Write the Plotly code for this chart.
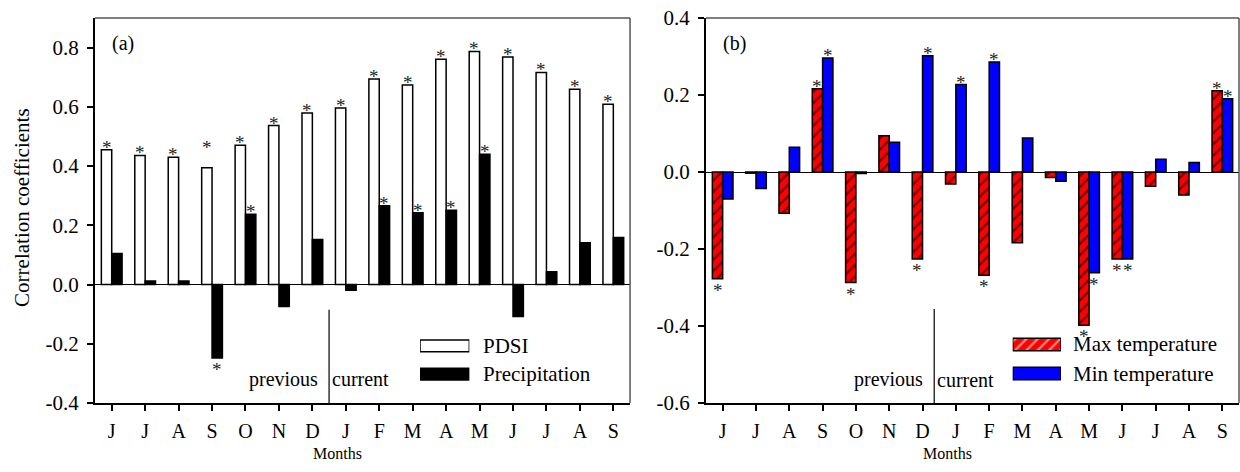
import plotly.graph_objects as go

# ---------------- data ----------------
months = ["J", "J", "A", "S", "O", "N", "D", "J", "F", "M", "A", "M", "J", "J", "A", "S"]

pdsi = [0.455, 0.436, 0.430, 0.394, 0.470, 0.537, 0.579, 0.596,
        0.694, 0.674, 0.761, 0.787, 0.768, 0.716, 0.659, 0.609]
precip = [0.105, 0.012, 0.012, -0.248, 0.237, -0.074, 0.152, -0.019,
          0.266, 0.242, 0.251, 0.440, -0.108, 0.043, 0.141, 0.159]
pdsi_sig = [1] * 16
precip_sig = [0, 0, 0, 1, 1, 0, 0, 0, 1, 1, 1, 1, 0, 0, 0, 0]

tmax = [-0.277, -0.003, -0.107, 0.216, -0.287, 0.094, -0.226, -0.031,
        -0.268, -0.184, -0.014, -0.398, -0.226, -0.037, -0.060, 0.211]
tmin = [-0.070, -0.043, 0.064, 0.296, -0.004, 0.077, 0.302, 0.227,
        0.286, 0.088, -0.024, -0.262, -0.226, 0.033, 0.025, 0.190]
tmax_sig = [1, 0, 0, 1, 1, 0, 1, 0, 1, 0, 0, 1, 1, 0, 0, 1]
tmin_sig = [0, 0, 0, 1, 0, 0, 1, 1, 1, 0, 0, 1, 1, 0, 0, 1]

ytick_a = [-0.4, -0.2, 0.0, 0.2, 0.4, 0.6, 0.8]
ytick_a_text = ["-0.4", "-0.2", "0.0", "0.2", "0.4", "0.6", "0.8"]
ytick_b = [-0.6, -0.4, -0.2, 0.0, 0.2, 0.4]
ytick_b_text = ["-0.6", "-0.4", "-0.2", "0.0", "0.2", "0.4"]

# ---------------- style ----------------
FONT = "Liberation Serif"
BARGAP = 0.38
HALF = (1 - BARGAP) / 4  # offset of each bar centre from the tick
xs = list(range(len(months)))
HATCH = dict(shape="/", fillmode="overlay", fgcolor="black", size=8, solidity=0.3)

fig = go.Figure()

# panel (a)
fig.add_trace(go.Bar(x=xs, y=pdsi, name="PDSI", marker=dict(color="white", line=dict(color="black", width=1.5)),
                     xaxis="x", yaxis="y", showlegend=False))
fig.add_trace(go.Bar(x=xs, y=precip, name="Precipitation", marker=dict(color="black", line=dict(color="black", width=1.5)),
                     xaxis="x", yaxis="y", showlegend=False))

# panel (b)
fig.add_trace(go.Bar(x=xs, y=tmax, name="Max temperature",
                     marker=dict(color="#ff0000", line=dict(color="black", width=1.5), pattern=HATCH),
                     xaxis="x2", yaxis="y2", showlegend=False))
fig.add_trace(go.Bar(x=xs, y=tmin, name="Min temperature",
                     marker=dict(color="#0000ff", line=dict(color="black", width=1.5)),
                     xaxis="x2", yaxis="y2", showlegend=False))

# legend swatches (drawn as bars on small overlay axes)
fig.add_trace(go.Bar(x=[1, 1], y=[0, 1], orientation="h", width=0.42, base=0,
                     marker=dict(color=["black", "white"], line=dict(color="black", width=1.5)),
                     xaxis="x3", yaxis="y3", showlegend=False, cliponaxis=False, hoverinfo="skip"))
fig.add_trace(go.Bar(x=[1, 1], y=[0, 1], orientation="h", width=0.43, base=0,
                     marker=dict(color=["#0000ff", "#ff0000"], line=dict(color="black", width=1.5),
                                 pattern=dict(shape=["", "/"], fillmode="overlay", fgcolor="black",
                                              size=8, solidity=0.3)),
                     xaxis="x4", yaxis="y4", showlegend=False, cliponaxis=False, hoverinfo="skip"))

annotations = []


def stars(values, sig, offset, xref, yref):
    for i, (v, s) in enumerate(zip(values, sig)):
        if not s:
            continue
        annotations.append(dict(x=i + offset, y=v, xref=xref, yref=yref, text="*", showarrow=False,
                                yanchor="middle", valign="top", height=12,
                                yshift=7 if v >= 0 else -7,
                                font=dict(family=FONT, size=19, color="#222")))


stars(pdsi, pdsi_sig, -HALF, "x", "y")
stars(precip, precip_sig, HALF, "x", "y")
stars(tmax, tmax_sig, -HALF, "x2", "y2")
stars(tmin, tmin_sig, HALF, "x2", "y2")
# the September PDSI asterisk sits higher in the original
annotations[3]["yshift"] = 25

# panel labels
annotations.append(dict(x=0.0131, y=0.935, xref="paper", yref="paper", text="(a)", showarrow=False,
                        xanchor="left", yanchor="middle", font=dict(family=FONT, size=20, color="black")))
annotations.append(dict(x=0.547, y=0.935, xref="paper", yref="paper", text="(b)", showarrow=False,
                        xanchor="left", yanchor="middle", font=dict(family=FONT, size=20, color="black")))

# previous / current
for xr, yr, xline, ytxt in [("x", "y", 6.5, -0.32), ("x2", "y2", 6.35, -0.54)]:
    annotations.append(dict(x=xline, y=ytxt, xref=xr, yref=yr, text="previous", showarrow=False,
                            xanchor="right", yanchor="middle", xshift=-9,
                            font=dict(family=FONT, size=20, color="black")))
    annotations.append(dict(x=xline, y=ytxt, xref=xr, yref=yr, text="current", showarrow=False,
                            xanchor="left", yanchor="middle", xshift=1,
                            font=dict(family=FONT, size=20, color="black")))
    annotations.append(dict(x=6.75, y=-0.13, xref=xr, yref="paper", text="Months", showarrow=False,
                            xanchor="center", yanchor="middle",
                            font=dict(family=FONT, size=16, color="black")))

# legend labels
for x, y, t in [(0.3374, 0.148, "PDSI"), (0.3374, 0.0753, "Precipitation"),
                (0.8530, 0.152, "Max temperature"), (0.8530, 0.0766, "Min temperature")]:
    annotations.append(dict(x=x, y=y, xref="paper", yref="paper", text=t, showarrow=False,
                            xanchor="left", yanchor="middle", font=dict(family=FONT, size=21, color="black")))

# y title
annotations.append(dict(x=-0.0634, y=0.508, xref="paper", yref="paper", text="Correlation coefficients",
                        showarrow=False, textangle=-90, xanchor="center", yanchor="middle",
                        font=dict(family=FONT, size=21, color="black")))

shapes = [
    dict(type="line", xref="x", yref="y", x0=6.5, x1=6.5, y0=-0.4, y1=-0.085, line=dict(color="black", width=1.2)),
    dict(type="line", xref="x2", yref="y2", x0=6.35, x1=6.35, y0=-0.6, y1=-0.356, line=dict(color="black", width=1.2)),
    # top / right frame
    dict(type="line", xref="x domain", yref="y domain", x0=0, x1=1, y0=1, y1=1, line=dict(color="#555", width=1.5)),
    dict(type="line", xref="x domain", yref="y domain", x0=1, x1=1, y0=0, y1=1, line=dict(color="#555", width=1.5)),
    dict(type="line", xref="x2 domain", yref="y2 domain", x0=0, x1=1, y0=1, y1=1, line=dict(color="#555", width=1.5)),
    dict(type="line", xref="x2 domain", yref="y2 domain", x0=1, x1=1, y0=0, y1=1, line=dict(color="#555", width=1.5)),
]

xcommon = dict(range=[-0.5, 15.5], tickvals=xs, ticktext=months, showline=True, linecolor="black", linewidth=2,
               ticks="outside", ticklen=6, tickwidth=1.5, tickcolor="black", showgrid=False, zeroline=False,
               tickfont=dict(family=FONT, size=20, color="black"), ticklabelstandoff=3, fixedrange=True)
ycommon = dict(showline=True, linecolor="black", linewidth=2, ticks="outside", ticklen=6, tickwidth=1.5,
               tickcolor="black", showgrid=False, zeroline=True, zerolinecolor="black", zerolinewidth=1,
               tickfont=dict(family=FONT, size=21, color="black"), ticklabelstandoff=4, fixedrange=True)

fig.update_layout(
    width=1240, height=472,
    margin=dict(l=95, r=1, t=18, b=69),
    paper_bgcolor="white", plot_bgcolor="white",
    barmode="group", bargap=BARGAP, bargroupgap=0,
    font=dict(family=FONT, color="black"),
    xaxis=dict(domain=[0, 0.4677], anchor="y", **xcommon),
    yaxis=dict(domain=[0, 1], anchor="x", range=[-0.4, 0.9], tickvals=ytick_a, ticktext=ytick_a_text, **ycommon),
    xaxis2=dict(domain=[0.5341, 1], anchor="y2", **xcommon),
    yaxis2=dict(domain=[0, 1], anchor="x2", range=[-0.6, 0.4], tickvals=ytick_b, ticktext=ytick_b_text, **ycommon),
    xaxis3=dict(domain=[0.2841, 0.3272], anchor="y3", range=[0, 1], visible=False, fixedrange=True),
    yaxis3=dict(domain=[0.0382, 0.1852], anchor="x3", range=[-0.5, 1.5], visible=False, fixedrange=True),
    xaxis4=dict(domain=[0.8022, 0.8444], anchor="y4", range=[0, 1], visible=False, fixedrange=True),
    yaxis4=dict(domain=[0.03896, 0.1896], anchor="x4", range=[-0.5, 1.5], visible=False, fixedrange=True),
    annotations=annotations,
    shapes=shapes,
    showlegend=False,
)

fig.write_html("out.html")
